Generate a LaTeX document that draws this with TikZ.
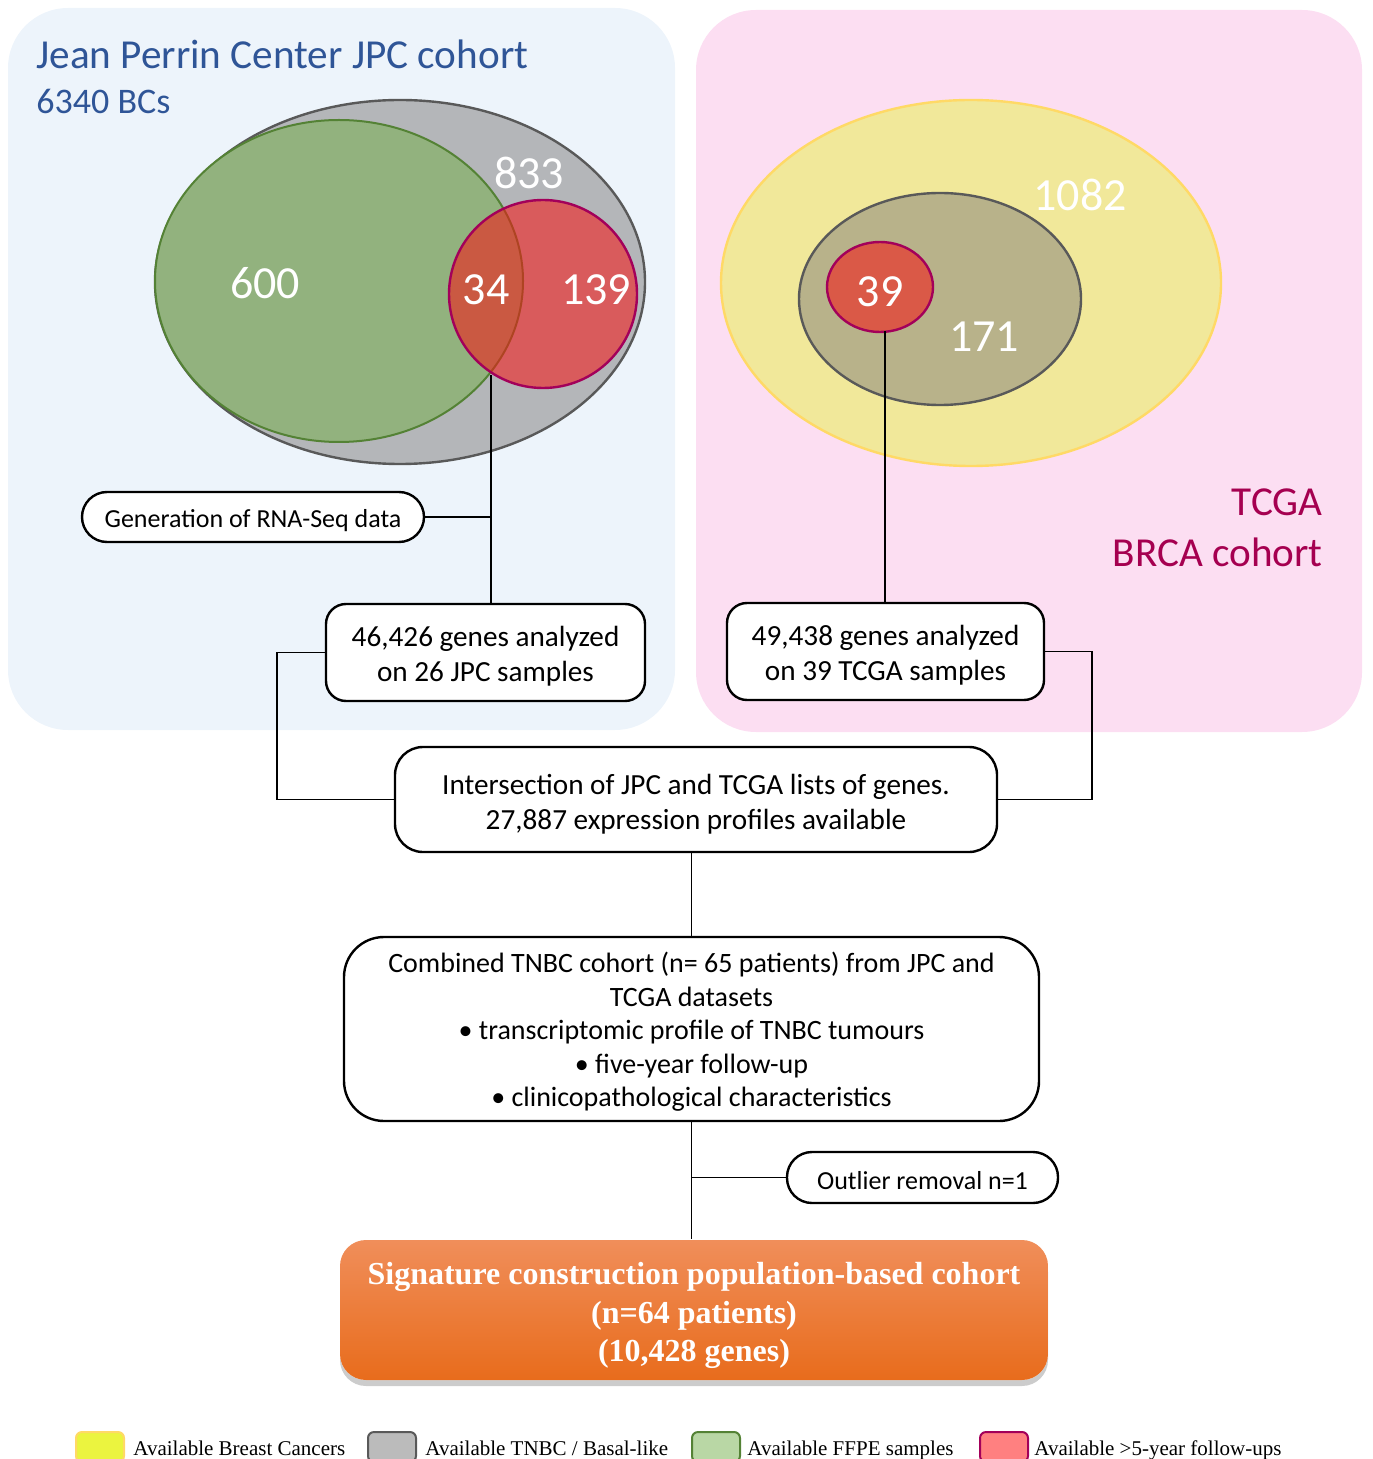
\documentclass[tikz,border=0pt]{standalone}
\usepackage{fontspec}
\setmainfont{Carlito}
\newfontfamily\legendfont{Liberation Serif}
\usetikzlibrary{shadows}
\newcommand{\toppad}[1]{\rule{0pt}{#1}}
\definecolor{jpcback}{HTML}{EDF4FB}
\definecolor{tcgaback}{HTML}{FCDEF2}
\definecolor{jpcblue}{HTML}{2F5597}
\definecolor{tcgared}{HTML}{A50050}
\definecolor{tnbcfill}{HTML}{B4B6B9}
\definecolor{tnbcline}{HTML}{595959}
\definecolor{tnbcolive}{HTML}{B8B28A}
\definecolor{ffpefill}{HTML}{92B27E}
\definecolor{ffpeline}{HTML}{548235}
\definecolor{fupfill}{HTML}{F61414}
\definecolor{fupline}{HTML}{A3005A}
\definecolor{bcfill}{HTML}{F1E89A}
\definecolor{bcline}{HTML}{FFD966}
\definecolor{bckey}{HTML}{EBF43F}
\definecolor{tnbckey}{HTML}{BBBBBB}
\definecolor{ffpekey}{HTML}{B9D7A5}
\definecolor{fupkey}{HTML}{FF8080}
\definecolor{sigtop}{HTML}{F08E5A}
\definecolor{sigmid}{HTML}{F27F32}
\definecolor{sigbottom}{HTML}{E86C1C}

\begin{document}
\begin{tikzpicture}[x=0.5pt,y=-0.5pt,
		box/.style={draw=black, line width=1.2pt, fill=white, align=center, inner sep=0pt},
		wire/.style={line width=0.8pt},
		count/.style={text=white, inner sep=0pt, font=\fontsize{23}{27}\selectfont},
		key/.style={line width=1pt, rounded corners=3pt, minimum width=24pt, minimum height=15pt, inner sep=0pt},
		keytext/.style={anchor=base west, inner sep=0pt, font=\legendfont\fontsize{10.5}{12}\selectfont}]
	\useasboundingbox (0,0) rectangle (1372,1459);
	\fill[jpcback, rounded corners=30pt] (8,8) rectangle (675,730);
	\fill[tcgaback, rounded corners=30pt] (696,10) rectangle (1362,732);
	\node[anchor=base west, inner sep=0pt, text=jpcblue, font=\fontsize{20.6}{24}\selectfont] (jpctitle) at (36,69) {Jean Perrin Center JPC cohort};
	\node[anchor=base west, inner sep=0pt, text=jpcblue, font=\fontsize{18}{22}\selectfont] (jpcsize) at (36,114) {6340 BCs};
	\node[anchor=base east, inner sep=0pt, text=tcgared, font=\fontsize{20.6}{24}\selectfont] (tcgatitle) at (1323,516) {TCGA};
	\node[anchor=base east, inner sep=0pt, text=tcgared, font=\fontsize{20.6}{24}\selectfont] (tcganame) at (1323,567) {BRCA cohort};

	\draw[fill=tnbcfill, draw=tnbcline, line width=1.2pt] (400,282) ellipse [x radius=245, y radius=182];
	\draw[fill=ffpefill, draw=ffpeline, line width=1pt] (339,281) ellipse [x radius=184, y radius=161];
	\draw[fill=fupfill, draw=fupline, line width=1.2pt, fill opacity=0.56] (543,294) ellipse [x radius=94, y radius=94];
	\node[count] (n833) at (529,173) {833};
	\node[count] (n600) at (265,283) {600};
	\node[count] (n34) at (486,290) {34};
	\node[count] (n139) at (596,290) {139};
	\coordinate (jpcfork) at (491,375);

	\draw[fill=bcfill, draw=bcline, line width=1.2pt] (971,283) ellipse [x radius=250, y radius=183];
	\draw[fill=tnbcolive, draw=tnbcline, line width=1.2pt] (940,299) ellipse [x radius=141, y radius=106];
	\draw[fill=fupfill, draw=fupline, line width=1.2pt, fill opacity=0.56] (880,287) ellipse [x radius=53, y radius=45];
	\node[count] (n1082) at (1080,195) {1082};
	\node[count] (n171) at (984,337) {171};
	\node[count] (n39) at (880,292) {39};
	\coordinate (tcgafork) at (885,331);

	\node[box, rounded corners=12.5pt, minimum width=171pt, minimum height=25pt, font=\fontsize{13}{15.6}\selectfont] (rnaseq) at (253,517) {\toppad{0.97em}Generation of RNA-Seq data};
	\node[box, rounded corners=10pt, minimum width=159.5pt, minimum height=48.5pt, font=\fontsize{14.6}{17.5}\selectfont] (jpcbox) at (485.5,652.5) {\toppad{0.95em}46,426 genes analyzed\\on 26 JPC samples};
	\node[box, rounded corners=10pt, minimum width=158.5pt, minimum height=48.5pt, font=\fontsize{14.6}{17.5}\selectfont] (tcgabox) at (885.5,651.5) {\toppad{0.95em}49,438 genes analyzed\\on 39 TCGA samples};
	\node[box, rounded corners=14pt, minimum width=301pt, minimum height=52.5pt, font=\fontsize{14.6}{17.5}\selectfont] (inter) at (696,799.5) {\toppad{1em}Intersection of JPC and TCGA lists of genes.\\27,887 expression profiles available};
	\node[box, rounded corners=20pt, minimum width=347.5pt, minimum height=92pt, font=\fontsize{14}{16.75}\selectfont] (combined) at (691.5,1029) {\toppad{0.95em}Combined TNBC cohort (n= 65 patients) from JPC and\\TCGA datasets\\\textbullet{} transcriptomic profile of TNBC tumours\\\textbullet{} five-year follow-up\\\textbullet{} clinicopathological characteristics};
	\node[box, rounded corners=12.5pt, minimum width=135.5pt, minimum height=25.5pt, font=\fontsize{13}{15.6}\selectfont] (outlier) at (922.5,1177.5) {\toppad{0.9em}Outlier removal n=1};
	\node[box, draw=none, rounded corners=13pt, minimum width=354pt, minimum height=70pt, top color=sigtop, middle color=sigmid, bottom color=sigbottom,
		drop shadow={opacity=0.4, shadow xshift=0pt, shadow yshift=-3pt}, text=white,
		font=\legendfont\bfseries\fontsize{16}{19.25}\selectfont] (sig) at (694,1310) {\toppad{1.05em}Signature construction population-based cohort\\(n=64 patients)\\(10,428 genes)};

	\draw[wire] (jpcfork) -- (jpcfork |- jpcbox.north);
	\draw[wire] (rnaseq.east) -- (rnaseq.east -| jpcfork);
	\draw[wire] (tcgafork) -- (tcgafork |- tcgabox.north);
	\draw[wire] (jpcbox.west) -- ++(-48,0) |- (inter.west);
	\draw[wire] (tcgabox.east) -- ++(47,0) |- (inter.east);
	\draw[wire] (combined.north) -- (combined.north |- inter.south);
	\draw[wire] (combined.south) -- (combined.south |- sig.north);
	\draw[wire] (outlier.west) -- (outlier.west -| combined.south);

	\node[key, fill=bckey, draw=bcline] (keybc) at (100,1447) {};
	\node[keytext] (keybctext) at (133,1455) {Available Breast Cancers};
	\node[key, fill=tnbckey, draw=tnbcline] (keytnbc) at (392,1447) {};
	\node[keytext] (keytnbctext) at (425,1455) {Available TNBC / Basal-like};
	\node[key, fill=ffpekey, draw=ffpeline] (keyffpe) at (716,1447) {};
	\node[keytext] (keyffpetext) at (747,1455) {Available FFPE samples};
	\node[key, fill=fupkey, draw=fupline] (keyfup) at (1004,1447) {};
	\node[keytext] (keyfuptext) at (1034,1455) {Available >5-year follow-ups};
\end{tikzpicture}
\end{document}
